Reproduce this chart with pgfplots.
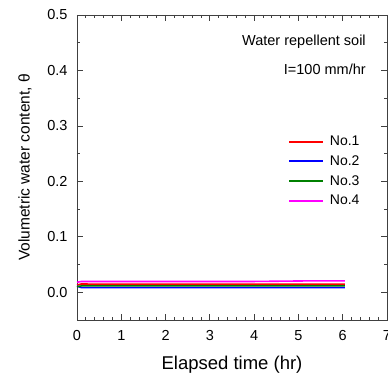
\documentclass[border=0pt]{standalone}
\usepackage{pgfplots}
\pgfplotsset{compat=1.18}
\usepackage{fontspec}
\setmainfont{Liberation Sans}
\definecolor{cR}{RGB}{255,0,0}
\definecolor{cB}{RGB}{0,0,255}
\definecolor{cG}{RGB}{0,128,0}
\definecolor{cM}{RGB}{255,0,255}
\begin{document}
\begin{tikzpicture}
\begin{axis}[name=ax, scale only axis, width=310pt, height=305pt,
  xmin=0, xmax=7, ymin=-0.05, ymax=0.5,
  xtick={0,1,...,7}, ytick={0,0.1,0.2,0.3,0.4,0.5},
  minor x tick num=4, minor y tick num=1,
  tick align=inside, major tick length=6pt, minor tick length=3pt,
  axis line style={black!75, line width=0.8pt},
  every tick/.style={black!75, line width=0.8pt},
  /pgf/number format/assume math mode=true,
  yticklabel style={xshift=-6pt, /pgf/number format/.cd, fixed, fixed zerofill, precision=1},
  xticklabel style={yshift=-7pt, /pgf/number format/.cd, fixed},
  tick label style={font=\fontsize{14.5}{14.5}\selectfont},
  xlabel={Elapsed time (hr)},
  ylabel={Volumetric water content, θ},
  xlabel style={font=\fontsize{18.5}{18.5}\selectfont, at={(axis description cs:0.5,-0.145)}, anchor=center},
  ylabel style={font=\fontsize{15.5}{15.5}\selectfont, at={(axis description cs:-0.168,0.5)}, anchor=center},
  legend style={draw=none, fill=none, font=\fontsize{14}{14}\selectfont,
    at={(rel axis cs:0.681,0.610)}, anchor=north west, row sep=4.5pt, inner sep=0pt,
    nodes={inner xsep=5.5pt}},
  legend cell align=left,
  legend image code/.code={\draw[#1, line width=2.1pt] (0pt,0pt) -- (34pt,0pt);},
]
\addplot[color=cR, line width=1.6pt] coordinates {(0,0.013)(0.1,0.015)(0.5,0.0145)(1,0.0145)(2,0.0145)(3,0.0148)(4,0.0148)(5,0.0148)(6.05,0.0148)};
\addlegendentry{No.1}
\addplot[color=cB, line width=1.6pt] coordinates {(0,0.011)(0.1,0.0085)(1,0.0085)(2,0.0085)(3,0.0085)(4,0.0085)(5,0.0085)(6.05,0.0085)};
\addlegendentry{No.2}
\addplot[color=cG, line width=1.6pt] coordinates {(0,0.010)(0.1,0.0115)(1,0.0115)(2,0.0115)(3,0.0115)(4,0.0115)(5,0.0115)(6.05,0.0115)};
\addlegendentry{No.3}
\addplot[color=cM, line width=1.6pt] coordinates {(0,0.018)(0.1,0.0195)(1,0.0195)(2,0.0195)(3,0.0195)(4,0.0195)(5.2,0.0205)(6.05,0.0205)};
\addlegendentry{No.4}
\node[anchor=east, inner sep=0pt, font=\fontsize{14.5}{14.5}\selectfont] at (rel axis cs:0.932,0.912) {Water repellent soil};
\node[anchor=east, inner sep=0pt, font=\fontsize{14.5}{14.5}\selectfont] at (rel axis cs:0.932,0.822) {I=100 mm/hr};
\end{axis}
\pgfresetboundingbox
\useasboundingbox ([xshift=-77pt,yshift=-54pt]ax.south west) rectangle ([xshift=1pt,yshift=15pt]ax.north east);
\end{tikzpicture}
\end{document}
